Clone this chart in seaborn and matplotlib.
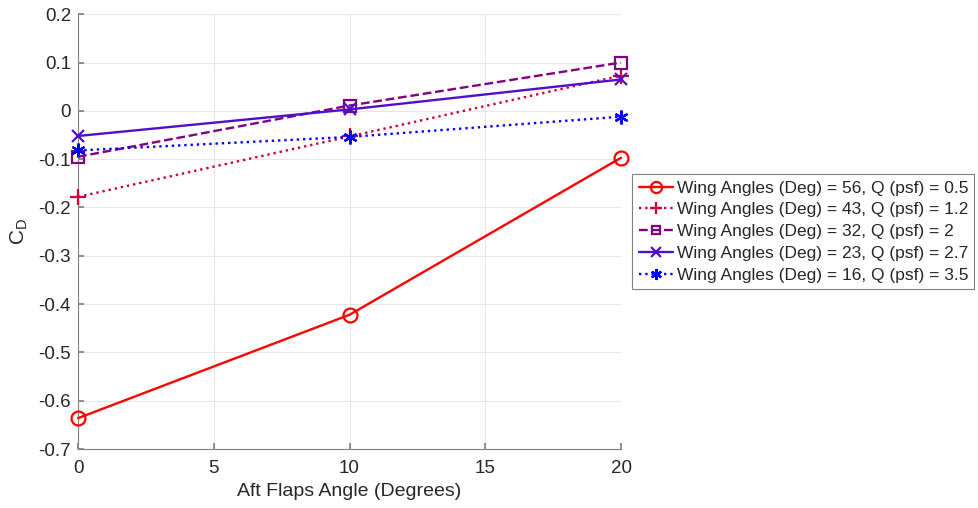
import matplotlib
matplotlib.use("Agg")
import matplotlib.pyplot as plt
import seaborn as sns
import pandas as pd

flap_angles = [0, 10, 20]
labels = [
    "Wing Angles (Deg) = 56, Q (psf) = 0.5",
    "Wing Angles (Deg) = 43, Q (psf) = 1.2",
    "Wing Angles (Deg) = 32, Q (psf) = 2",
    "Wing Angles (Deg) = 23, Q (psf) = 2.7",
    "Wing Angles (Deg) = 16, Q (psf) = 3.5",
]
cd_56 = [-0.636, -0.422, -0.097]
cd_43 = [-0.178, -0.053, 0.073]
cd_32 = [-0.095, 0.011, 0.100]
cd_23 = [-0.052, 0.003, 0.065]
cd_16 = [-0.082, -0.054, -0.012]
series = [cd_56, cd_43, cd_32, cd_23, cd_16]

colors = ["#FF0000", "#CC0033", "#800080", "#4D0FCC", "#0000FF"]
linestyles = ["-", ":", "--", "-", ":"]
markers = ["o", "+", "s", "x", (6, 2, 0)]
msizes = [10, 11, 8, 9, 10]

sns.set_theme(style="white")
plt.rcParams["font.family"] = ["Liberation Sans", "DejaVu Sans"]

fig = plt.figure(figsize=(9.79, 5.08), dpi=100)
ax = fig.add_axes([0.0797, 0.116, 0.5547, 0.856])

for lab, vals, c, ls, m, ms in zip(labels, series, colors, linestyles, markers, msizes):
    df = pd.DataFrame({"x": flap_angles, "y": vals})
    sns.lineplot(data=df, x="x", y="y", ax=ax, color=c, linestyle=ls, marker=m,
                 markersize=ms, markerfacecolor="none", markeredgecolor=c,
                 markeredgewidth=1.6, linewidth=1.7, label=lab, clip_on=False,
                 zorder=3)

ax.set_xlim(0, 20)
ax.set_ylim(-0.7, 0.2)
ax.set_xticks([0, 5, 10, 15, 20])
ax.set_yticks([-0.7, -0.6, -0.5, -0.4, -0.3, -0.2, -0.1, 0, 0.1, 0.2])
ax.set_yticklabels(["-0.7", "-0.6", "-0.5", "-0.4", "-0.3", "-0.2", "-0.1", "0", "0.1", "0.2"])
ax.grid(True, color="#e6e6e6", linewidth=0.8)
ax.set_axisbelow(True)
for s in ["top", "right"]:
    ax.spines[s].set_visible(False)
for s in ["left", "bottom"]:
    ax.spines[s].set_color("#808080")
    ax.spines[s].set_linewidth(0.8)
ax.tick_params(axis="both", direction="in", length=4, color="#808080",
               labelsize=13.5, labelcolor="#262626", left=True, bottom=True, pad=5)
ax.tick_params(axis="x", pad=8)
ax.set_xlabel("Aft Flaps Angle (Degrees)", fontsize=14, color="#262626", labelpad=4)
ax.set_ylabel("C$_\\mathregular{D}$", fontsize=15, color="#262626", labelpad=6)

leg = ax.legend(loc="center left", bbox_to_anchor=(1.005, 0.5), fontsize=12.5,
                frameon=True, fancybox=False, edgecolor="#808080", framealpha=1,
                handlelength=2.0, handletextpad=0.2, borderpad=0.35, labelspacing=0.38,
                borderaxespad=0.5)
leg.get_frame().set_linewidth(0.8)
for t in leg.get_texts():
    t.set_color("#262626")
for h in leg.legend_handles:
    h.set_markersize(h.get_markersize() * 0.8)

fig.savefig("out.png", dpi=100)
